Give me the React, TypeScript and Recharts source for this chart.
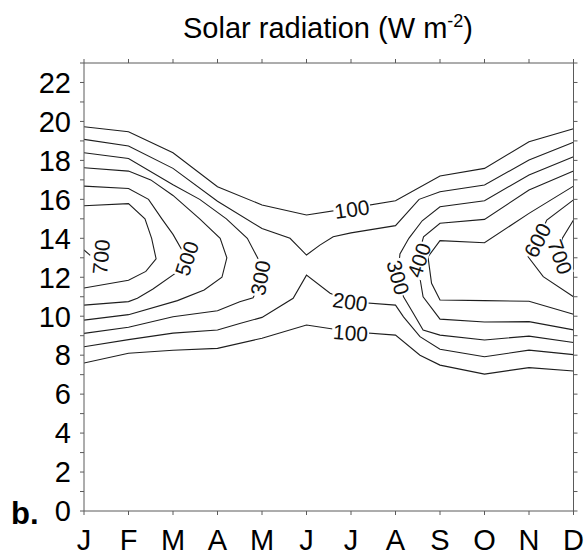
import React from 'react';
import { LineChart, Line, XAxis, YAxis, ReferenceDot } from 'recharts';

const monthLabels = ['J', 'F', 'M', 'A', 'M', 'J', 'J', 'A', 'S', 'O', 'N', 'D'];
const monthTicks = [0, 1, 2, 3, 4, 5, 6, 7, 8, 9, 10, 11];
const hourTicks = [0, 1, 2, 3, 4, 5, 6, 7, 8, 9, 10, 11, 12, 13, 14, 15, 16, 17, 18, 19, 20, 21, 22, 23];

type P = [number, number];

// contour polylines: [month index, hour]
const c100Upper: P[] = [[0, 19.73], [1, 19.47], [2, 18.39], [3, 16.65], [4, 15.71], [5, 15.2], [6, 15.55], [7, 15.93], [8, 17.2], [9, 17.59], [10, 18.96], [11, 19.62]];
const c200Upper: P[] = [[0, 19.08], [1, 18.74], [2, 17.59], [3, 15.9], [4, 14.5], [4.63, 14.0], [5, 13.14], [5.3, 13.65], [5.6, 14.08], [6, 14.28], [7, 14.65], [7.53, 16], [8, 16.39], [9, 16.74], [10, 18.02], [11, 18.93]];
const c300Left: P[] = [[0, 18.39], [1, 18.1], [2, 16.75], [2.6, 16], [3.2, 15], [3.67, 14], [3.9, 13], [4.02, 12], [3.8, 10.95], [3.5, 10.74], [3, 10.28], [2, 9.97], [1, 9.43], [0, 9.12]];
const c400Left: P[] = [[0, 17.62], [1, 17.45], [1.5, 17], [2, 16.2], [2.6, 15], [3.06, 14], [3.21, 13], [3.1, 12], [2.7, 11.35], [2.1, 10.8], [1, 10.08], [0, 9.8]];
const c500Left: P[] = [[0, 16.68], [1, 16.56], [1.45, 16], [1.75, 15], [2.0, 14.2], [2.3, 13.0], [2.05, 12.2], [1.55, 11.4], [1.2, 10.92], [1, 10.75], [0, 10.57]];
const c600Left: P[] = [[0, 15.67], [1, 15.78], [1.37, 15], [1.52, 14], [1.62, 12.95], [1.39, 12.3], [1, 11.85], [0, 11.45]];
const c700Left: P[] = [[0, 13.4], [0.14, 13.12]];
const c200Lower: P[] = [[0, 8.43], [1, 8.8], [2, 9.13], [3, 9.29], [3.5, 9.63], [4, 9.94], [4.7, 10.92], [5, 12.11], [5.53, 11.18], [6, 10.74], [7, 10.57], [7.18, 9.97], [7.55, 8.95], [8, 8.3], [9, 7.92], [10, 8.26], [11, 8.03]];
const c100Lower: P[] = [[0, 7.6], [1, 8.1], [2, 8.25], [3, 8.35], [4, 8.87], [5, 9.55], [6, 9.2], [7, 9.03], [7.55, 8.0], [8, 7.49], [9, 7.03], [10, 7.36], [11, 7.19]];
const c300Right: P[] = [[11, 18.19], [10, 17.25], [9, 15.93], [8, 15.62], [7.6, 14.9], [7.3, 14], [7.1, 13.2], [7.05, 12.0], [7.18, 11], [7.4, 10.15], [7.62, 9.29], [8, 9.03], [9, 8.78], [10, 8.98], [11, 8.65]];
const c400Right: P[] = [[11, 17.45], [10, 16.48], [9, 14.97], [8, 14.77], [7.63, 14.08], [7.5, 13.0], [7.55, 11.95], [7.62, 11], [8, 9.85], [9, 9.7], [10, 9.72], [11, 9.3]];
const c500Right: P[] = [[11, 16.68], [10, 15.28], [9, 13.77], [8, 13.88], [7.73, 13.05], [7.81, 11.69], [8, 10.83], [9, 10.8], [10, 10.77], [11, 10.1]];
const c600Right: P[] = [[11, 15.97], [10.4, 14.94], [10.19, 13.9], [9.98, 13.05], [10.32, 12.03], [11, 11.0]];
const c700Right: P[] = [[11, 14.94], [10.75, 14.0], [10.7, 13.05]];

const contours: P[][] = [c100Upper, c200Upper, c300Left, c400Left, c500Left, c600Left, c700Left, c200Lower, c100Lower, c300Right, c400Right, c500Right, c600Right, c700Right];

// contour labels: text, month, hour, angle
const labelTexts = ['100', '200', '100', '300', '500', '700', '300', '400', '600', '700'];
const labelMonths = [6.02, 5.98, 5.99, 3.96, 2.31, 0.38, 7.06, 7.53, 10.19, 10.7];
const labelHours = [15.5, 10.74, 9.15, 11.96, 12.97, 13.05, 11.99, 12.88, 13.9, 13.05];
const labelAngles = [-8, 8, 4, -80, -72, -85, 75, -72, -63, 70];

const FONT = '"Liberation Sans", Arial, Helvetica, sans-serif';
const LINE = '#1e1e1e';
const AXIS = '#5a5a5a';

const ContourLabel = (props: any) => {
  const { cx, cy, text, angle } = props;
  if (cx == null || cy == null) return null;
  const w = text.length * 0.556 * 21 + 2;
  const h = 16;
  return (
    <g transform={`translate(${cx},${cy}) rotate(${angle})`}>
      <rect x={-w / 2} y={-h / 2} width={w} height={h} fill="#ffffff" />
      <text x={0} y={0} dy="0.36em" textAnchor="middle" fontSize={21} fontFamily={FONT} fill="#111">
        {text}
      </text>
    </g>
  );
};

export default function App() {
  return (
    <div style={{ position: 'absolute', left: 0, top: 0, width: 586, height: 555, background: '#fff' }}>
      <LineChart width={586} height={555} margin={{ top: 55, right: 4.5, bottom: 14, left: 44 }}>
        <XAxis
          dataKey="m"
          type="number"
          domain={[0, 11]}
          ticks={monthTicks}
          allowDataOverflow
          tickFormatter={(v: number) => monthLabels[v] ?? ''}
          tickSize={4}
          tickMargin={14}
          height={30}
          stroke={AXIS}
          tick={{ fill: '#000', fontSize: 29, fontFamily: FONT }}
          interval={0}
        />
        <XAxis
          xAxisId="top"
          orientation="top"
          dataKey="m"
          type="number"
          domain={[0, 11]}
          ticks={monthTicks}
          allowDataOverflow
          tickFormatter={() => ''}
          tickSize={4}
          height={8}
          stroke={AXIS}
          interval={0}
        />
        <YAxis
          type="number"
          domain={[0, 23]}
          ticks={hourTicks}
          allowDataOverflow
          tickFormatter={(v: number) => (v % 2 === 0 && v < 23 ? String(v) : '')}
          tickSize={4}
          tickMargin={9}
          width={40}
          stroke={AXIS}
          tick={{ fill: '#000', fontSize: 29, fontFamily: FONT }}
          interval={0}
        />
        <YAxis
          yAxisId="right"
          orientation="right"
          type="number"
          domain={[0, 23]}
          ticks={hourTicks}
          allowDataOverflow
          tickFormatter={() => ''}
          tickSize={4}
          width={8}
          stroke={AXIS}
          interval={0}
        />
        {contours.map((pts, i) => (
          <Line
            key={i}
            data={pts.map(([m, h]) => ({ m, h }))}
            dataKey="h"
            type="linear"
            dot={false}
            activeDot={false}
            stroke={LINE}
            strokeWidth={1.1}
            isAnimationActive={false}
            legendType="none"
          />
        ))}
        {labelTexts.map((t, i) => (
          <ReferenceDot
            key={'l' + i}
            x={labelMonths[i]}
            y={labelHours[i]}
            r={0}
            ifOverflow="visible"
            shape={(p: any) => <ContourLabel cx={p.cx} cy={p.cy} text={t} angle={labelAngles[i]} />}
          />
        ))}
      </LineChart>
      <svg width={586} height={555} style={{ position: 'absolute', left: 0, top: 0, pointerEvents: 'none' }}>
        <text x={328} y={38} textAnchor="middle" fontSize={29} fontFamily={FONT} fill="#000">
          Solar radiation (W m
          <tspan dy={-11} fontSize={18}>-2</tspan>
          <tspan dy={11}>)</tspan>
        </text>
        <text x={11} y={524} fontSize={31} fontWeight="bold" fontFamily={FONT} fill="#000">
          b.
        </text>
      </svg>
    </div>
  );
}
